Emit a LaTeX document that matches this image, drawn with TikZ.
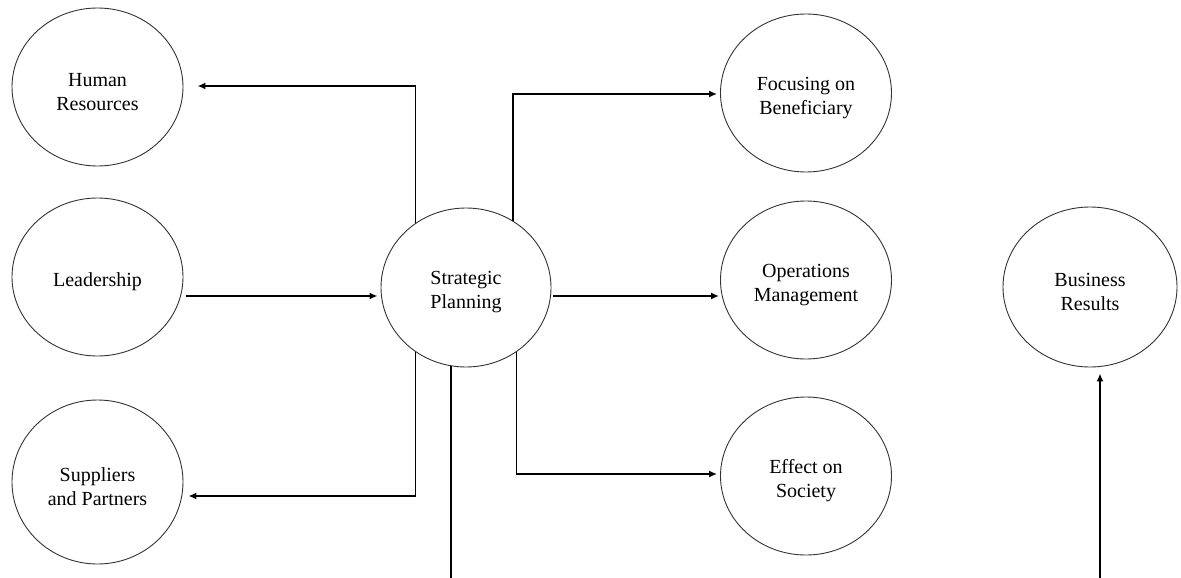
\documentclass[tikz,border=0pt]{standalone}
\usepackage{fontspec}
\setmainfont{Liberation Serif}
\usetikzlibrary{shapes.geometric,arrows.meta}
\begin{document}
\begin{tikzpicture}[x=1pt,y=-1pt,
  bubble/.style={ellipse,draw=black!80,line width=0.9pt,minimum width=171pt,
    minimum height=158pt,inner sep=0pt},
  caption/.style={label={[font=\fontsize{20}{24}\selectfont,align=center,
    inner sep=0pt,yshift=-5pt]center:#1}},
  link/.style={line width=1.8pt,-{Latex[length=8pt,width=7pt]}}]
\useasboundingbox (0,0) rectangle (1181,578);

% left column
\node[bubble,caption={Human\\Resources}]      (hr)  at (97.5,87)  {};
\node[bubble,caption={Leadership}]            (ld)  at (97.5,277) {};
\node[bubble,minimum height=164pt,caption={Suppliers\\and Partners}] (sup) at (97.5,482) {};

% centre
\node[bubble,minimum width=170pt,minimum height=159pt,caption={Strategic\\Planning}] (sp) at (466,287.5) {};

% right column
\node[bubble,caption={Focusing on\\Beneficiary}] (fb) at (806,93)  {};
\node[bubble,caption={Operations\\Management}]   (om) at (806,280) {};
\node[bubble,caption={Effect on\\Society}]       (es) at (806,476) {};
\node[bubble,minimum width=174pt,minimum height=160pt,caption={Business\\Results}] (br) at (1090,287) {};

% bend point of the long connector along the bottom edge
\coordinate (low) at (0,578.5);

% connectors
\draw[link] ([xshift=3pt,yshift=-19pt]ld.east) -- ([xshift=-3pt,yshift=-8.5pt]sp.west);
\draw[link] (sp.128) |- ([xshift=14pt,yshift=1pt]hr.east);
\draw[link] (sp.55) |- ([xshift=-3pt,yshift=-1pt]fb.west);
\draw[link] ([xshift=2pt,yshift=-8.5pt]sp.east) -- ([xshift=-1pt,yshift=-16pt]om.west);
\draw[link] (sp.-52) |- ([xshift=-3pt,yshift=2pt]es.west);
\draw[link] (sp.-128) |- ([xshift=5pt,yshift=-14pt]sup.east);
\draw[link] (sp.-101) -- (sp.-101 |- low) -| ([xshift=10pt,yshift=-6pt]br.south);
\end{tikzpicture}
\end{document}
